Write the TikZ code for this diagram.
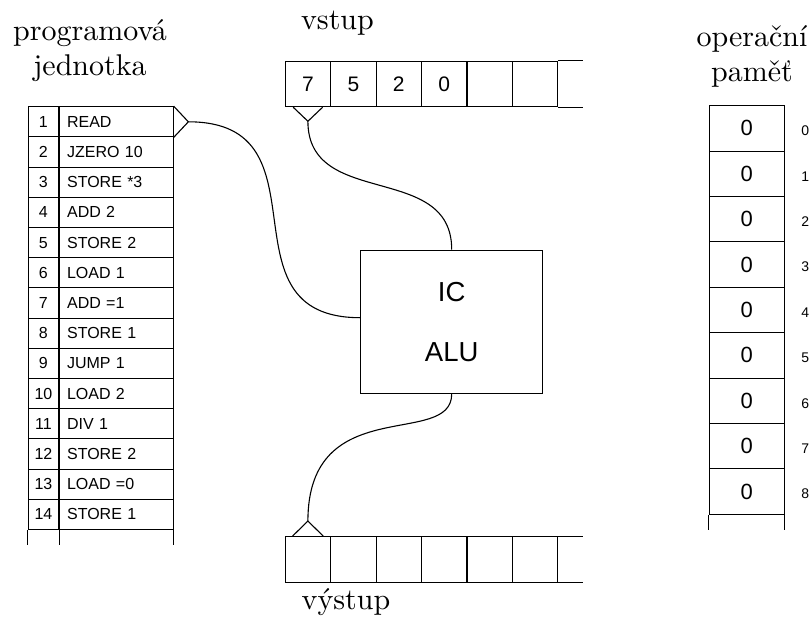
\documentclass[tikz,border=0pt]{standalone}
\usepackage{fontspec}
\usepackage{tikz}
\usetikzlibrary{positioning}
\newfontfamily\arialf{Liberation Sans}
\newfontfamily\titlef{lmroman10-regular.otf}

\begin{document}
\begin{tikzpicture}[x=1pt, y=-1pt, line width=1.1pt,
    title/.style = {align=center, font=\titlef\fontsize{30}{35}\selectfont},
    prog/.style = {draw, minimum height=30.2pt, inner sep=0pt, font=\arialf\fontsize{16}{18}\selectfont},
    num/.style = {prog, minimum width=30.4pt},
    instr/.style = {prog, text width=98.6pt, inner xsep=7.4pt, align=left},
    cell/.style = {draw, minimum width=45.45pt, minimum height=45.6pt, inner sep=0pt, font=\arialf\fontsize{21}{24}\selectfont},
    mem/.style = {cell, minimum width=75.3pt, minimum height=45.4pt, font=\arialf\fontsize{22}{24}\selectfont},
    addr/.style = {inner sep=0pt, font=\arialf\fontsize{14}{16}\selectfont}]
  \useasboundingbox (0,0) rectangle (811,626);

  % nadpisy
  \node[title] (tprog) at (90,51) {programová\\jednotka};
  \node[title, anchor=base] (tin) at (337.5,30) {vstup};
  \node[title, anchor=base] (tout) at (346,609) {výstup};
  \node[title] (tmem) at (752,56) {operační\\paměť};

  % programová jednotka
  \foreach \i/\txt in {1/READ, 2/JZERO 10, 3/STORE *3, 4/ADD 2, 5/STORE 2, 6/LOAD 1, 7/ADD =1,
      8/STORE 1, 9/JUMP 1, 10/LOAD 2, 11/DIV 1, 12/STORE 2, 13/LOAD =0, 14/STORE 1}{
    \node[num] (n\i) at (43.4, {91.6+30.2*\i}) {\i};
    \node[instr, right=0pt of n\i] (c\i) {\txt};
  }
  \draw (n14.south west) -- ++(0,15) (n14.south east) -- ++(0,15) (c14.south east) -- ++(0,15);
  \coordinate (rd) at ([xshift=14.7pt]c1.east);
  \draw (c1.north east) -- (rd) -- (c1.south east);

  % vstup a výstup
  \foreach \i/\v in {1/7, 2/5, 3/2, 4/0, 5/{}, 6/{}}{
    \node[cell] (in\i) at ({262.45+45.45*\i}, 83.9) {\v};
    \node[cell] (out\i) at ({262.45+45.45*\i}, 559.4) {};
  }
  \draw (in6.north east) -- ++(24.5,0) (in6.south east) -- ++(24.5,0);
  \draw (out6.north east) -- ++(24.5,0) (out6.south east) -- ++(24.5,0);
  \coordinate (vin) at ([yshift=-14pt]in1.south);
  \draw ([xshift=-14.7pt]in1.south) -- (vin) -- ([xshift=14.7pt]in1.south);
  \coordinate (vout) at ([yshift=15pt]out1.north);
  \draw ([xshift=-15.3pt]out1.north) -- (vout) -- ([xshift=15.3pt]out1.north);

  % procesor
  \node[draw, minimum width=182pt, minimum height=143.3pt, align=center,
    font=\arialf\fontsize{27.5}{60}\selectfont] (alu) at (451.7,321.7) {IC\\ALU};

  % operační paměť
  \foreach \i in {0,...,8}{
    \node[mem] (m\i) at (746.7, {128.4+45.4*\i}) {0};
    \node[addr, right=16pt of m\i, yshift=-2.5pt] (a\i) {\i};
  }
  \draw (m8.south west) -- ++(0,15) (m8.south east) -- ++(0,15);

  % spoje
  \draw (rd) .. controls +(145,0) and +(-145,0) .. ([yshift=4pt]alu.west);
  \draw (vin) .. controls +(0,88) and +(0,-88) .. (alu.north);
  \draw (alu.south) .. controls +(0,55) and +(0,-130) .. (vout);
\end{tikzpicture}
\end{document}
